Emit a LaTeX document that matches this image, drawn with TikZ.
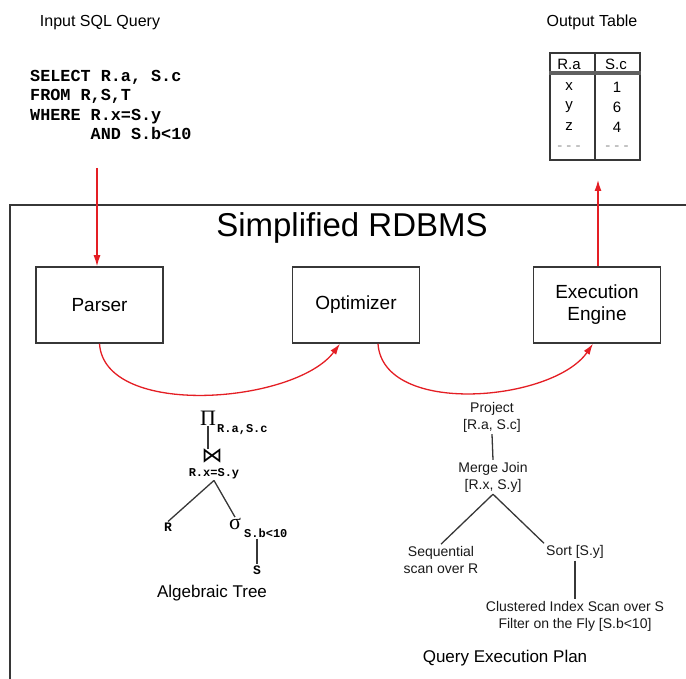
\documentclass[tikz,border=0pt]{standalone}
\usepackage{fontspec}
\setmainfont{Liberation Sans}
\setmonofont{Liberation Mono}
\newfontfamily\relsymfont{DejaVu Sans}
\newfontfamily\greekserif{Liberation Serif}
\usepackage{tikz}
\usetikzlibrary{arrows.meta,positioning}
\definecolor{flowred}{RGB}{228,30,36}
\definecolor{boxgray}{RGB}{55,55,55}
\tikzset{
	>={Latex[length=11pt,width=7pt]},
	stage/.style={
		draw=boxgray, line width=1.5pt,
		minimum width=127pt,
		minimum height=76pt,
		align=center,
		font={\fontsize{19}{22}\selectfont}
	},
	flow/.style={draw=flowred, line width=1.3pt, ->},
	caption/.style={font={\fontsize{16}{19}\selectfont}},
	planop/.style={align=center, inner sep=2pt, text=black!90,
		font={\fontsize{14}{17}\selectfont}},
	relop/.style={inner sep=1pt, font={\greekserif\fontsize{22}{24}\selectfont}},
	attr/.style={inner sep=1pt, font={\ttfamily\bfseries\fontsize{12}{14}\selectfont}},
	treeline/.style={draw=boxgray, line width=1.3pt},
	cell/.style={inner sep=1pt, font={\fontsize{15}{17}\selectfont}},
}

\begin{document}
\begin{tikzpicture}[x=1pt,y=-1pt]
	\useasboundingbox (0,0) rectangle (686,679);
	% system frame
	\draw[boxgray, line width=1.5pt] (10,679) -- (10,205) -- (686,205);
	\node[font={\fontsize{33}{36}\selectfont}] (title) at (352,228) {Simplified RDBMS};
	
	\node[stage] (parser) at (99.5,305) {Parser};
	\node[stage] (optimizer) at (356,305) {Optimizer};
	\node[stage] (engine) at (597,305) {Execution\\Engine};
	
	% input query
	\node[caption] (inlabel) at (100,23) {Input SQL Query};
	\node[anchor=north west, inner sep=0, align=left,
		font={\ttfamily\bfseries\fontsize{16.8}{19.3}\selectfont}] (query) at (30,70)
		{SELECT R.a, S.c\\FROM R,S,T\\WHERE R.x=S.y\\\hphantom{WHEREX}AND S.b<10};
	\coordinate (qin) at (97,168);
	\draw[flow] (qin) -- (qin |- parser.north);
	
	% output table
	\node[caption] (outlabel) at (592,22) {Output Table};
	\node[draw=boxgray, line width=1.3pt, minimum width=90pt, minimum height=107pt] (table) at (595,106.5) {};
	\draw[boxgray, line width=1.3pt] (table.north) -- (table.south);
	\draw[gray!75!black, line width=3.5pt] (table.west |- 0,73) -- (table.east |- 0,73);
	\node[cell] (rahead) at (569,64) {R.a};
	\node[cell] (schead) at (616,64) {S.c};
	\foreach \a/\b [count=\i] in {x/1,y/6,z/4}{
		\node[cell] (ra\i) at (569,67+20*\i) {\a};
		\node[cell] (sc\i) at (617,67+20*\i) {\b};
	}
	\node[cell, gray!80] (radots) at (569,148) {- - -};
	\node[cell, gray!80] (scdots) at (617,148) {- - -};
	\coordinate (tout) at (598,180);
	\draw[flow] (engine.north -| tout) -- (tout);
	
	% stage to stage
	\draw[flow] (parser.south) .. controls +(5,75) and +(-45,60) .. ([xshift=-16pt]optimizer.south);
	\draw[flow] ([xshift=22pt]optimizer.south) .. controls +(5,73) and +(-40,58) .. ([xshift=-4pt]engine.south);
	
	% algebraic tree
	\node[relop] (proj) at (208,418) {Π};
	\node[attr, anchor=west] (projattr) at (216,430) {R.a,S.c};
	\node[relop, inner sep=0pt, font={\relsymfont\fontsize{21}{22}\selectfont}] (join) at (212,456) {⋈};
	\node[attr] (joincond) at (214,474) {R.x=S.y};
	\node[attr, font={\ttfamily\bfseries\fontsize{13}{15}\selectfont}] (relr) at (168,527) {R};
	\node[relop] (sel) at (235,524) {σ};
	\node[attr, anchor=west] (selcond) at (243,533) {S.b<10};
	\node[attr, font={\ttfamily\bfseries\fontsize{13}{15}\selectfont}] (rels) at (257,570) {S};
	\draw[treeline] (proj.south) -- (proj.south |- join.north);
	\foreach \to in {relr,sel}
		\draw[treeline] (joincond.south) -- (\to.north);
	\draw[treeline] (rels.north |- selcond.south) -- (rels.north);
	\node[font={\fontsize{17}{20}\selectfont}] (algtree) at (212,593) {Algebraic Tree};
	
	% execution plan
	\node[planop] (project) at (492,417) {Project\\{}[R.a, S.c]};
	\node[planop] (merge) at (493,477) {Merge Join\\{}[R.x, S.y]};
	\node[planop] (seqscan) at (441,560) {Sequential\\scan over R};
	\node[planop] (sort) at (575,552) {Sort [S.y]};
	\node[planop] (idxscan) at (575,616) {Clustered Index Scan over S\\Filter on the Fly [S.b<10]};
	\foreach \from/\to in {project/merge,sort/idxscan}
		\draw[treeline] (\from.south) -- (\to.north);
	\draw[treeline] (merge.south) -- (seqscan.north);
	\draw[treeline] (merge.south) -- (sort.north west);
	\node[font={\fontsize{17}{20}\selectfont}] (plancap) at (505,658) {Query Execution Plan};
\end{tikzpicture}
\end{document}
